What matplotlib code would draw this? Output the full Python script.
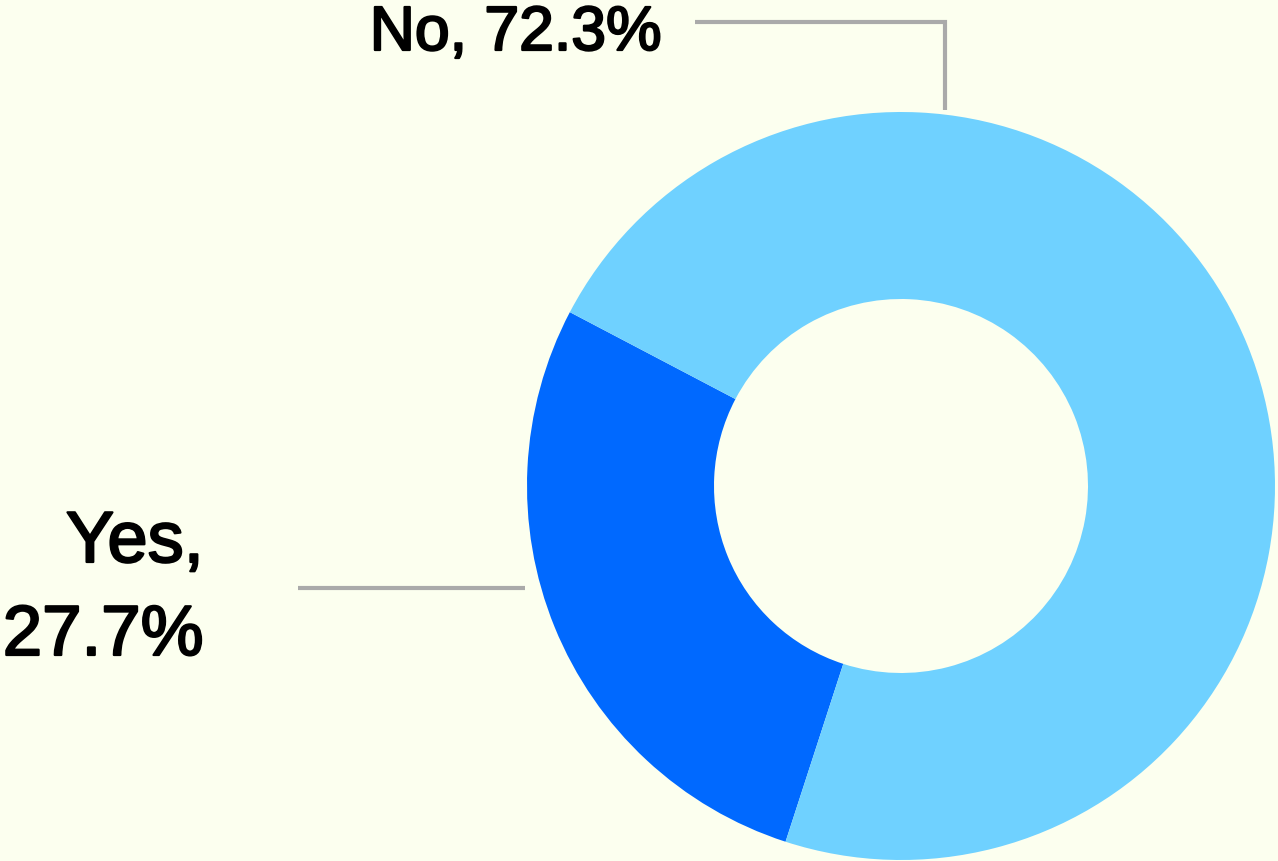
import matplotlib
matplotlib.use("Agg")
import matplotlib.pyplot as plt
import matplotlib.patheffects as pe

categories = ["Yes", "No"]
values = [27.7, 72.3]
colors = ["#0069FF", "#6FD1FF"]

BG = "#FCFFEF"
LINE = "#AAAAAA"
W, H = 1278, 861

fig = plt.figure(figsize=(W / 100, H / 100), dpi=100, facecolor=BG)
ax = fig.add_axes([0, 0, 1, 1], facecolor=BG)

cx, cy, r = 901, H - 486, 374
ax.pie(values, colors=colors, startangle=152.3, counterclock=True,
       center=(cx, cy), radius=r,
       wedgeprops=dict(width=r * 0.5, linewidth=0))

ax.set_xlim(0, W)
ax.set_ylim(0, H)
ax.set_aspect("equal")
ax.axis("off")

font = "Liberation Sans"
# slightly heavier strokes for the labels
heavy = [pe.withStroke(linewidth=1.6, foreground="black")]

# "No" label with elbow leader line
ax.plot([695, 945, 945], [H - 22, H - 22, H - 110], color=LINE, lw=3,
        solid_joinstyle="miter", solid_capstyle="butt")
ax.text(662, H - 50, f"{categories[1]}, {values[1]}%", ha="right", va="baseline",
        fontsize=45, family=font, color="black", path_effects=heavy)

# "Yes" label with straight leader line
ax.plot([298, 525], [H - 588, H - 588], color=LINE, lw=3, solid_capstyle="butt")
ax.text(204, H - 562, f"{categories[0]},", ha="right", va="baseline",
        fontsize=52, family=font, color="black", path_effects=heavy)
ax.text(204, H - 655, f"{values[0]}%", ha="right", va="baseline",
        fontsize=51, family=font, color="black", path_effects=heavy)

fig.savefig("out.png", dpi=100, facecolor=BG)
